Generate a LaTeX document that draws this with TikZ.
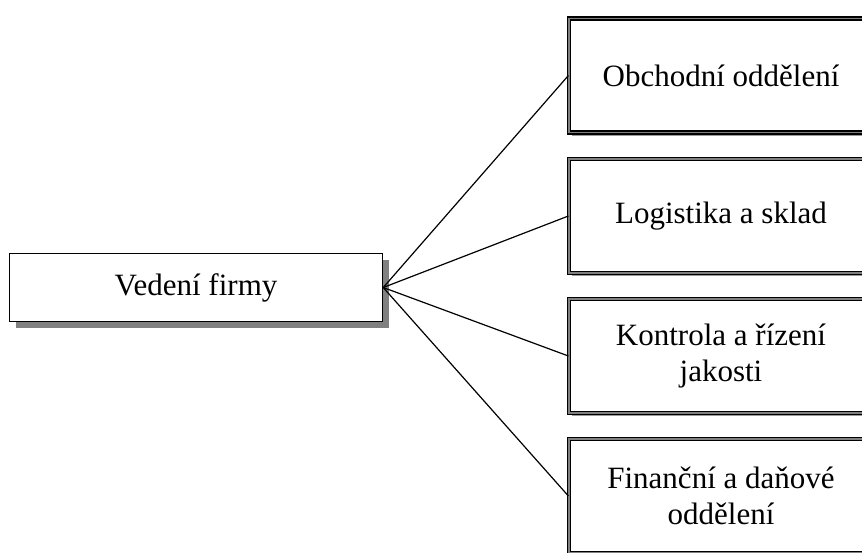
\documentclass[tikz,border=0pt]{standalone}
\usepackage{fontspec}
\setmainfont{Liberation Serif}
\usetikzlibrary{shadows}

\begin{document}
\begin{tikzpicture}[x=1pt,y=-1pt,
  every node/.style={font=\fontsize{31}{36}\selectfont, align=center, inner sep=0pt},
  boss/.style={draw, line width=1.5pt, fill=white,
    minimum width=373pt, minimum height=68pt,
    drop shadow={shadow xshift=6pt, shadow yshift=-6pt, fill=gray, opacity=1}},
  dept/.style={draw, line width=1.2pt, double=gray, double distance=1.8pt, fill=white,
    minimum width=304pt, minimum height=114pt,
    drop shadow={shadow xshift=3pt, shadow yshift=-3pt, fill=gray!80, opacity=1}}]
\useasboundingbox (0,0) rectangle (862,552);
\clip (0,0) rectangle (862,552);

% management
\node[boss] (vedeni) at (196,287.5) {Vedení firmy};

% departments
\node[dept] (obchod) at (721,75.5) {Obchodní oddělení};
\node[dept] (logist) at (721,216) {Logistika a sklad};
\node[dept] (kontrol) at (721,356) {Kontrola a řízení\\jakosti};
\node[dept] (financ) at (721,496) {Finanční a daňové\\oddělení};

% connectors
\foreach \d in {obchod,logist,kontrol,financ}
  \draw[line width=1.2pt] (vedeni.east) -- (\d.west);
\end{tikzpicture}
\end{document}
